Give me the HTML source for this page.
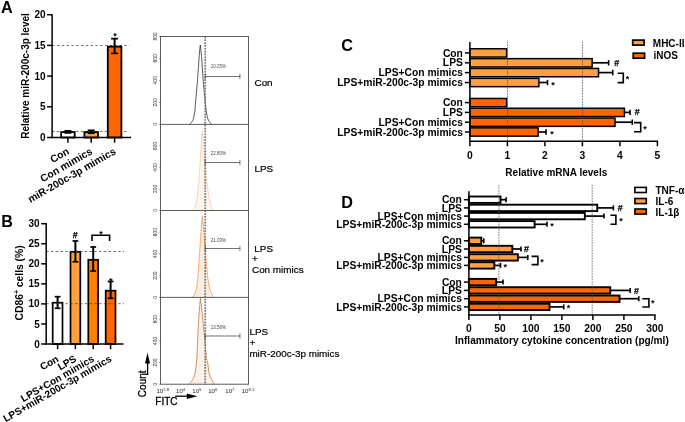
<!DOCTYPE html>
<html><head><meta charset="utf-8"><title>Figure</title>
<style>
html,body{margin:0;padding:0;background:#fff;}
body{width:685px;height:422px;overflow:hidden;font-family:"Liberation Sans",sans-serif;}
svg{display:block;will-change:transform;opacity:0.9999;}
svg text{font-family:"Liberation Sans",sans-serif;}
</style></head>
<body>
<svg width="685" height="422" viewBox="0 0 685 422">
<rect x="0" y="0" width="685" height="422" fill="#ffffff"/>
<text x="1.1" y="12.9" font-size="16.2" font-weight="bold" text-anchor="start" fill="#000" >A</text>
<line x1="52.1" y1="45.5" x2="129.2" y2="45.5" stroke="#333" stroke-width="0.7" stroke-dasharray="2.5 2.3"/>
<line x1="52.1" y1="131.5" x2="129.2" y2="131.5" stroke="#333" stroke-width="0.7" stroke-dasharray="2.5 2.3"/>
<rect x="61.10" y="132.10" width="13.60" height="5.40" fill="#ffffff" stroke="#000" stroke-width="1.8"/>
<line x1="67.9" y1="132.895" x2="67.9" y2="130.8688" stroke="#000" stroke-width="2.0" />
<line x1="64.4" y1="130.8688" x2="71.4" y2="130.8688" stroke="#000" stroke-width="1.7" />
<line x1="64.4" y1="132.895" x2="71.4" y2="132.895" stroke="#000" stroke-width="1.7" />
<rect x="84.40" y="132.10" width="13.60" height="5.40" fill="#FFA040" stroke="#000" stroke-width="1.8"/>
<line x1="91.2" y1="133.202" x2="91.2" y2="130.3162" stroke="#000" stroke-width="2.0" />
<line x1="87.7" y1="130.3162" x2="94.7" y2="130.3162" stroke="#000" stroke-width="1.7" />
<line x1="87.7" y1="133.202" x2="94.7" y2="133.202" stroke="#000" stroke-width="1.7" />
<rect x="107.80" y="46.63" width="13.60" height="90.87" fill="#FF6600" stroke="#000" stroke-width="1.8"/>
<line x1="114.6" y1="53.382000000000005" x2="114.6" y2="38.646" stroke="#000" stroke-width="2.0" />
<line x1="111.1" y1="38.646" x2="118.1" y2="38.646" stroke="#000" stroke-width="1.7" />
<line x1="111.1" y1="53.382000000000005" x2="118.1" y2="53.382000000000005" stroke="#000" stroke-width="1.7" />
<line x1="52.1" y1="14.3" x2="52.1" y2="138.15" stroke="#000" stroke-width="1.5" />
<line x1="52.1" y1="137.5" x2="131" y2="137.5" stroke="#000" stroke-width="1.5" />
<line x1="47.1" y1="137.5" x2="52.1" y2="137.5" stroke="#000" stroke-width="1.5" />
<text x="45.6" y="141.05" font-size="10" font-weight="bold" text-anchor="end" fill="#000" >0</text>
<line x1="47.1" y1="106.8" x2="52.1" y2="106.8" stroke="#000" stroke-width="1.5" />
<text x="45.6" y="110.35" font-size="10" font-weight="bold" text-anchor="end" fill="#000" >5</text>
<line x1="47.1" y1="76.1" x2="52.1" y2="76.1" stroke="#000" stroke-width="1.5" />
<text x="45.6" y="79.64999999999999" font-size="10" font-weight="bold" text-anchor="end" fill="#000" >10</text>
<line x1="47.1" y1="45.400000000000006" x2="52.1" y2="45.400000000000006" stroke="#000" stroke-width="1.5" />
<text x="45.6" y="48.95" font-size="10" font-weight="bold" text-anchor="end" fill="#000" >15</text>
<line x1="47.1" y1="14.700000000000003" x2="52.1" y2="14.700000000000003" stroke="#000" stroke-width="1.5" />
<text x="45.6" y="18.250000000000004" font-size="10" font-weight="bold" text-anchor="end" fill="#000" >20</text>
<line x1="67.9" y1="137.5" x2="67.9" y2="142.7" stroke="#000" stroke-width="1.5" />
<text x="70.0" y="153.3" font-size="10.3" font-weight="bold" text-anchor="end" fill="#000" transform="rotate(-30 70.0 153.3)" >Con</text>
<line x1="91.2" y1="137.5" x2="91.2" y2="142.7" stroke="#000" stroke-width="1.5" />
<text x="93.3" y="153.3" font-size="10.3" font-weight="bold" text-anchor="end" fill="#000" transform="rotate(-30 93.3 153.3)" >Con mimics</text>
<line x1="114.6" y1="137.5" x2="114.6" y2="142.7" stroke="#000" stroke-width="1.5" />
<text x="116.69999999999999" y="153.3" font-size="10.3" font-weight="bold" text-anchor="end" fill="#000" transform="rotate(-30 116.69999999999999 153.3)" >miR-200c-3p mimics</text>
<text x="29.3" y="76" font-size="10" font-weight="bold" text-anchor="middle" fill="#000" transform="rotate(-90 29.3 76)" >Relative miR-200c-3p level</text>
<text x="115" y="39.43" font-size="9" font-weight="bold" text-anchor="middle" fill="#000" >*</text>
<text x="1.3" y="226.7" font-size="16.2" font-weight="bold" text-anchor="start" fill="#000" >B</text>
<rect x="52.70" y="302.70" width="9.80" height="41.30" fill="#ffffff" stroke="#000" stroke-width="1.7"/>
<line x1="57.6" y1="308.311" x2="57.6" y2="296.682" stroke="#000" stroke-width="2.0" />
<line x1="54.7" y1="296.682" x2="60.5" y2="296.682" stroke="#000" stroke-width="1.7" />
<line x1="54.7" y1="308.311" x2="60.5" y2="308.311" stroke="#000" stroke-width="1.7" />
<rect x="70.50" y="251.77" width="9.80" height="92.23" fill="#FFA040" stroke="#000" stroke-width="1.7"/>
<line x1="75.4" y1="261.795" x2="75.4" y2="240.943" stroke="#000" stroke-width="2.0" />
<line x1="72.5" y1="240.943" x2="78.30000000000001" y2="240.943" stroke="#000" stroke-width="1.7" />
<line x1="72.5" y1="261.795" x2="78.30000000000001" y2="261.795" stroke="#000" stroke-width="1.7" />
<rect x="88.30" y="259.79" width="9.80" height="84.21" fill="#FF8000" stroke="#000" stroke-width="1.7"/>
<line x1="93.2" y1="271.01800000000003" x2="93.2" y2="246.95800000000003" stroke="#000" stroke-width="2.0" />
<line x1="90.3" y1="246.95800000000003" x2="96.10000000000001" y2="246.95800000000003" stroke="#000" stroke-width="1.7" />
<line x1="90.3" y1="271.01800000000003" x2="96.10000000000001" y2="271.01800000000003" stroke="#000" stroke-width="1.7" />
<rect x="105.70" y="290.67" width="9.80" height="53.33" fill="#FF6600" stroke="#000" stroke-width="1.7"/>
<line x1="110.6" y1="298.286" x2="110.6" y2="281.444" stroke="#000" stroke-width="2.0" />
<line x1="107.69999999999999" y1="281.444" x2="113.5" y2="281.444" stroke="#000" stroke-width="1.7" />
<line x1="107.69999999999999" y1="298.286" x2="113.5" y2="298.286" stroke="#000" stroke-width="1.7" />
<line x1="46.2" y1="251.5" x2="124" y2="251.5" stroke="#333" stroke-width="0.7" stroke-dasharray="2.5 2.3"/>
<line x1="46.2" y1="303.7" x2="124" y2="303.7" stroke="#333" stroke-width="0.7" stroke-dasharray="2.5 2.3"/>
<line x1="46.2" y1="223.04999999999998" x2="46.2" y2="344.65" stroke="#000" stroke-width="1.5" />
<line x1="46.2" y1="344" x2="123.5" y2="344" stroke="#000" stroke-width="1.5" />
<line x1="41.2" y1="344.0" x2="46.2" y2="344.0" stroke="#000" stroke-width="1.5" />
<text x="39.7" y="347.55" font-size="10" font-weight="bold" text-anchor="end" fill="#000" >0</text>
<line x1="41.2" y1="323.95" x2="46.2" y2="323.95" stroke="#000" stroke-width="1.5" />
<text x="39.7" y="327.5" font-size="10" font-weight="bold" text-anchor="end" fill="#000" >5</text>
<line x1="41.2" y1="303.9" x2="46.2" y2="303.9" stroke="#000" stroke-width="1.5" />
<text x="39.7" y="307.45" font-size="10" font-weight="bold" text-anchor="end" fill="#000" >10</text>
<line x1="41.2" y1="283.85" x2="46.2" y2="283.85" stroke="#000" stroke-width="1.5" />
<text x="39.7" y="287.40000000000003" font-size="10" font-weight="bold" text-anchor="end" fill="#000" >15</text>
<line x1="41.2" y1="263.8" x2="46.2" y2="263.8" stroke="#000" stroke-width="1.5" />
<text x="39.7" y="267.35" font-size="10" font-weight="bold" text-anchor="end" fill="#000" >20</text>
<line x1="41.2" y1="243.75" x2="46.2" y2="243.75" stroke="#000" stroke-width="1.5" />
<text x="39.7" y="247.3" font-size="10" font-weight="bold" text-anchor="end" fill="#000" >25</text>
<line x1="41.2" y1="223.7" x2="46.2" y2="223.7" stroke="#000" stroke-width="1.5" />
<text x="39.7" y="227.25" font-size="10" font-weight="bold" text-anchor="end" fill="#000" >30</text>
<line x1="57.6" y1="344" x2="57.6" y2="349.2" stroke="#000" stroke-width="1.5" />
<text x="59.4" y="360.8" font-size="10.1" font-weight="bold" text-anchor="end" fill="#000" transform="rotate(-30 59.4 360.8)" >Con</text>
<line x1="75.4" y1="344" x2="75.4" y2="349.2" stroke="#000" stroke-width="1.5" />
<text x="77.2" y="360.8" font-size="10.1" font-weight="bold" text-anchor="end" fill="#000" transform="rotate(-30 77.2 360.8)" >LPS</text>
<line x1="93.2" y1="344" x2="93.2" y2="349.2" stroke="#000" stroke-width="1.5" />
<text x="95.0" y="360.8" font-size="10.1" font-weight="bold" text-anchor="end" fill="#000" transform="rotate(-30 95.0 360.8)" >LPS+Con mimics</text>
<line x1="110.6" y1="344" x2="110.6" y2="349.2" stroke="#000" stroke-width="1.5" />
<text x="112.39999999999999" y="360.8" font-size="10.1" font-weight="bold" text-anchor="end" fill="#000" transform="rotate(-30 112.39999999999999 360.8)" >LPS+miR-200c-3p mimics</text>
<text x="23.0" y="282.9" font-size="10.3" font-weight="bold" text-anchor="middle" transform="rotate(-90 23.0 282.9)">CD86<tspan dy="-3.5" font-size="7">+</tspan><tspan dy="3.5"> cells (%)</tspan></text>
<text x="75.3" y="237.68" font-size="8.8" font-weight="bold" text-anchor="middle" fill="#000" stroke="#000" stroke-width="0.25">#</text>
<polyline points="92,240.9 92,235.3 109.6,235.3 109.6,240.9" fill="none" stroke="#000" stroke-width="1.6"/>
<text x="101.1" y="237.33" font-size="9" font-weight="bold" text-anchor="middle" fill="#000" >*</text>
<text x="110.7" y="283.83" font-size="9" font-weight="bold" text-anchor="middle" fill="#000" >*</text>
<path d="M189.00,124.40 L189.40,124.34 L189.80,124.17 L190.20,123.89 L190.60,123.52 L191.00,123.07 L191.40,122.54 L191.80,121.95 L192.20,121.30 L192.60,120.61 L193.00,119.79 L193.40,118.64 L193.80,117.13 L194.20,115.25 L194.60,112.98 L195.00,109.90 L195.40,104.60 L195.80,99.41 L196.20,94.92 L196.60,90.59 L197.00,86.23 L197.40,81.61 L197.80,76.50 L198.20,70.76 L198.60,64.79 L199.00,59.05 L199.40,53.68 L199.80,48.97 L200.20,45.65 L200.30,45.00 L200.70,48.08 L201.10,51.94 L201.50,56.49 L201.90,61.69 L202.30,67.64 L202.70,73.68 L203.10,79.14 L203.50,83.90 L203.90,88.34 L204.30,92.56 L204.70,96.61 L205.10,100.58 L205.50,104.70 L205.90,108.66 L206.30,111.70 L206.70,113.90 L207.10,115.86 L207.50,117.55 L207.90,118.95 L208.30,120.02 L208.70,120.79 L209.10,121.48 L209.50,122.12 L209.90,122.71 L210.30,123.23 L210.70,123.67 L211.10,124.01 L211.50,124.26 L211.90,124.38 L212.10,124.40" fill="none" stroke="#111" stroke-width="0.7" stroke-linejoin="round"/>
<path d="M192.30,210.50 L192.70,210.14 L193.10,209.66 L193.50,209.08 L193.90,208.43 L194.30,207.71 L194.70,206.94 L195.10,206.09 L195.50,205.11 L195.90,203.96 L196.30,202.58 L196.70,200.84 L197.10,198.32 L197.50,195.17 L197.90,191.62 L198.30,187.68 L198.70,182.98 L199.10,177.76 L199.50,172.28 L199.90,166.44 L200.30,159.78 L200.70,152.78 L201.10,145.97 L201.50,139.86 L201.90,134.97 L202.30,131.30 L202.70,134.39 L203.10,138.18 L203.50,142.60 L203.90,147.46 L204.30,152.57 L204.70,157.75 L205.10,162.82 L205.50,167.61 L205.90,171.95 L206.30,176.15 L206.70,180.27 L207.10,184.16 L207.50,187.69 L207.90,190.70 L208.30,193.29 L208.70,195.65 L209.10,197.78 L209.50,199.69 L209.90,201.40 L210.30,202.91 L210.70,204.30 L211.10,205.54 L211.50,206.63 L211.90,207.55 L212.30,208.37 L212.70,209.12 L213.10,209.77 L213.50,210.29 L213.70,210.50" fill="#FEF6EE" stroke="#F7C49A" stroke-width="0.7" stroke-linejoin="round"/>
<path d="M191.80,297.40 L192.20,297.22 L192.60,296.90 L193.00,296.46 L193.40,295.93 L193.80,295.32 L194.20,294.67 L194.60,293.98 L195.00,293.20 L195.40,292.26 L195.80,291.12 L196.20,289.72 L196.60,287.98 L197.00,285.14 L197.40,281.33 L197.80,277.12 L198.20,272.38 L198.60,266.89 L199.00,261.11 L199.40,255.45 L199.80,249.59 L200.20,243.50 L200.60,237.39 L201.00,231.49 L201.40,226.00 L201.80,221.17 L202.20,217.20 L202.30,216.30 L202.70,219.46 L203.10,223.33 L203.50,227.79 L203.90,232.69 L204.30,237.84 L204.70,243.11 L205.10,248.32 L205.50,253.33 L205.90,257.99 L206.30,262.65 L206.70,267.29 L207.10,271.65 L207.50,275.48 L207.90,278.63 L208.30,281.49 L208.70,284.06 L209.10,286.29 L209.50,288.10 L209.90,289.51 L210.30,290.71 L210.70,291.76 L211.10,292.68 L211.50,293.54 L211.90,294.36 L212.30,295.14 L212.70,295.87 L213.10,296.53 L213.50,297.13 L213.70,297.40" fill="#FDEEE2" stroke="#F08A3C" stroke-width="0.7" stroke-linejoin="round"/>
<path d="M188.60,384.20 L189.00,383.97 L189.40,383.68 L189.80,383.33 L190.20,382.93 L190.60,382.48 L191.00,382.00 L191.40,381.49 L191.80,380.95 L192.20,380.36 L192.60,379.71 L193.00,378.97 L193.40,378.13 L193.80,377.18 L194.20,376.08 L194.60,374.82 L195.00,373.19 L195.40,371.06 L195.80,368.38 L196.20,365.10 L196.60,361.18 L197.00,355.13 L197.40,345.64 L197.80,336.69 L198.20,328.38 L198.60,320.68 L199.00,314.44 L199.40,309.10 L199.80,304.47 L200.20,300.53 L200.50,298.10 L200.90,301.52 L201.30,305.12 L201.70,308.83 L202.10,312.62 L202.50,316.43 L202.90,320.21 L203.30,323.94 L203.70,327.68 L204.10,331.53 L204.50,335.55 L204.90,339.89 L205.30,345.28 L205.70,351.06 L206.10,355.98 L206.50,358.88 L206.90,360.38 L207.30,361.73 L207.70,363.05 L208.10,365.74 L208.50,369.99 L208.90,372.10 L209.30,373.71 L209.70,375.00 L210.10,376.16 L210.50,377.22 L210.90,378.19 L211.30,379.08 L211.70,379.89 L212.10,380.63 L212.50,381.30 L212.90,381.92 L213.30,382.50 L213.70,383.03 L214.10,383.51 L214.50,383.93 L214.80,384.20" fill="#FBF2E9" stroke="#C07A38" stroke-width="0.8" stroke-linejoin="round"/>
<rect x="160.5" y="36.5" width="88.0" height="347.7" fill="none" stroke="#4a4a4a" stroke-width="0.9"/>
<line x1="160.5" y1="124.4" x2="248.5" y2="124.4" stroke="#4a4a4a" stroke-width="0.9" />
<line x1="160.5" y1="210.5" x2="248.5" y2="210.5" stroke="#4a4a4a" stroke-width="0.9" />
<line x1="160.5" y1="297.4" x2="248.5" y2="297.4" stroke="#4a4a4a" stroke-width="0.9" />
<line x1="205.2" y1="36.5" x2="205.2" y2="384.59999999999997" stroke="#757575" stroke-width="1.7" stroke-dasharray="1.7 1.15"/>
<line x1="205.3" y1="76.5" x2="240.2" y2="76.5" stroke="#333" stroke-width="0.7" />
<line x1="239.9" y1="73.9" x2="239.9" y2="79.1" stroke="#555" stroke-width="0.8" />
<line x1="205.2" y1="73.9" x2="205.2" y2="79.1" stroke="#444" stroke-width="0.8" />
<text x="210.7" y="68.3" font-size="5.2" text-anchor="start" fill="#444" textLength="15.3" lengthAdjust="spacingAndGlyphs">10.25%</text>
<line x1="205.3" y1="162.5" x2="240.2" y2="162.5" stroke="#333" stroke-width="0.7" />
<line x1="239.9" y1="159.9" x2="239.9" y2="165.1" stroke="#555" stroke-width="0.8" />
<line x1="205.2" y1="159.9" x2="205.2" y2="165.1" stroke="#444" stroke-width="0.8" />
<text x="210.7" y="154.6" font-size="5.2" text-anchor="start" fill="#444" textLength="15.3" lengthAdjust="spacingAndGlyphs">22.80%</text>
<line x1="205.3" y1="248.5" x2="240.2" y2="248.5" stroke="#333" stroke-width="0.7" />
<line x1="239.9" y1="245.9" x2="239.9" y2="251.1" stroke="#555" stroke-width="0.8" />
<line x1="205.2" y1="245.9" x2="205.2" y2="251.1" stroke="#444" stroke-width="0.8" />
<text x="210.7" y="241.6" font-size="5.2" text-anchor="start" fill="#444" textLength="15.3" lengthAdjust="spacingAndGlyphs">21.03%</text>
<line x1="205.3" y1="336" x2="240.2" y2="336" stroke="#333" stroke-width="0.7" />
<line x1="239.9" y1="333.4" x2="239.9" y2="338.6" stroke="#555" stroke-width="0.8" />
<line x1="205.2" y1="333.4" x2="205.2" y2="338.6" stroke="#444" stroke-width="0.8" />
<text x="210.7" y="328.5" font-size="5.2" text-anchor="start" fill="#444" textLength="15.3" lengthAdjust="spacingAndGlyphs">13.56%</text>
<text x="157.4" y="124.4" font-size="4.9" text-anchor="middle" fill="#222" transform="rotate(-90 157.4 124.4)" >0</text>
<line x1="159.0" y1="124.4" x2="160.5" y2="124.4" stroke="#555" stroke-width="0.5" />
<text x="157.4" y="102.42500000000001" font-size="4.9" text-anchor="middle" fill="#222" transform="rotate(-90 157.4 102.42500000000001)" >200</text>
<line x1="159.0" y1="102.42500000000001" x2="160.5" y2="102.42500000000001" stroke="#555" stroke-width="0.5" />
<text x="157.4" y="80.45" font-size="4.9" text-anchor="middle" fill="#222" transform="rotate(-90 157.4 80.45)" >400</text>
<line x1="159.0" y1="80.45" x2="160.5" y2="80.45" stroke="#555" stroke-width="0.5" />
<text x="157.4" y="58.474999999999994" font-size="4.9" text-anchor="middle" fill="#222" transform="rotate(-90 157.4 58.474999999999994)" >600</text>
<line x1="159.0" y1="58.474999999999994" x2="160.5" y2="58.474999999999994" stroke="#555" stroke-width="0.5" />
<text x="157.4" y="36.5" font-size="4.9" text-anchor="middle" fill="#222" transform="rotate(-90 157.4 36.5)" >800</text>
<line x1="159.0" y1="36.5" x2="160.5" y2="36.5" stroke="#555" stroke-width="0.5" />
<text x="157.4" y="210.5" font-size="4.9" text-anchor="middle" fill="#222" transform="rotate(-90 157.4 210.5)" >0</text>
<line x1="159.0" y1="210.5" x2="160.5" y2="210.5" stroke="#555" stroke-width="0.5" />
<text x="157.4" y="188.975" font-size="4.9" text-anchor="middle" fill="#222" transform="rotate(-90 157.4 188.975)" >200</text>
<line x1="159.0" y1="188.975" x2="160.5" y2="188.975" stroke="#555" stroke-width="0.5" />
<text x="157.4" y="167.45" font-size="4.9" text-anchor="middle" fill="#222" transform="rotate(-90 157.4 167.45)" >400</text>
<line x1="159.0" y1="167.45" x2="160.5" y2="167.45" stroke="#555" stroke-width="0.5" />
<text x="157.4" y="145.925" font-size="4.9" text-anchor="middle" fill="#222" transform="rotate(-90 157.4 145.925)" >600</text>
<line x1="159.0" y1="145.925" x2="160.5" y2="145.925" stroke="#555" stroke-width="0.5" />
<text x="157.4" y="297.4" font-size="4.9" text-anchor="middle" fill="#222" transform="rotate(-90 157.4 297.4)" >0</text>
<line x1="159.0" y1="297.4" x2="160.5" y2="297.4" stroke="#555" stroke-width="0.5" />
<text x="157.4" y="275.67499999999995" font-size="4.9" text-anchor="middle" fill="#222" transform="rotate(-90 157.4 275.67499999999995)" >200</text>
<line x1="159.0" y1="275.67499999999995" x2="160.5" y2="275.67499999999995" stroke="#555" stroke-width="0.5" />
<text x="157.4" y="253.95" font-size="4.9" text-anchor="middle" fill="#222" transform="rotate(-90 157.4 253.95)" >400</text>
<line x1="159.0" y1="253.95" x2="160.5" y2="253.95" stroke="#555" stroke-width="0.5" />
<text x="157.4" y="232.225" font-size="4.9" text-anchor="middle" fill="#222" transform="rotate(-90 157.4 232.225)" >600</text>
<line x1="159.0" y1="232.225" x2="160.5" y2="232.225" stroke="#555" stroke-width="0.5" />
<text x="157.4" y="384.2" font-size="4.9" text-anchor="middle" fill="#222" transform="rotate(-90 157.4 384.2)" >0</text>
<line x1="159.0" y1="384.2" x2="160.5" y2="384.2" stroke="#555" stroke-width="0.5" />
<text x="157.4" y="362.5" font-size="4.9" text-anchor="middle" fill="#222" transform="rotate(-90 157.4 362.5)" >200</text>
<line x1="159.0" y1="362.5" x2="160.5" y2="362.5" stroke="#555" stroke-width="0.5" />
<text x="157.4" y="340.79999999999995" font-size="4.9" text-anchor="middle" fill="#222" transform="rotate(-90 157.4 340.79999999999995)" >400</text>
<line x1="159.0" y1="340.79999999999995" x2="160.5" y2="340.79999999999995" stroke="#555" stroke-width="0.5" />
<text x="157.4" y="319.09999999999997" font-size="4.9" text-anchor="middle" fill="#222" transform="rotate(-90 157.4 319.09999999999997)" >600</text>
<line x1="159.0" y1="319.09999999999997" x2="160.5" y2="319.09999999999997" stroke="#555" stroke-width="0.5" />
<text x="162.8" y="392.8" font-size="6.1" fill="#2a2a2a" text-anchor="middle">10<tspan dy="-2.2" font-size="4.2">2.8</tspan></text>
<text x="180.6" y="392.8" font-size="6.1" fill="#2a2a2a" text-anchor="middle">10<tspan dy="-2.2" font-size="4.2">4</tspan></text>
<text x="196.9" y="392.8" font-size="6.1" fill="#2a2a2a" text-anchor="middle">10<tspan dy="-2.2" font-size="4.2">5</tspan></text>
<text x="212.8" y="392.8" font-size="6.1" fill="#2a2a2a" text-anchor="middle">10<tspan dy="-2.2" font-size="4.2">6</tspan></text>
<text x="229.9" y="392.8" font-size="6.1" fill="#2a2a2a" text-anchor="middle">10<tspan dy="-2.2" font-size="4.2">7</tspan></text>
<text x="248.0" y="392.8" font-size="6.1" fill="#2a2a2a" text-anchor="middle">10<tspan dy="-2.2" font-size="4.2">8.1</tspan></text>
<text x="254.5" y="86.2" font-size="9.9" text-anchor="start" fill="#000" stroke="#000" stroke-width="0.2">Con</text>
<text x="254.4" y="172" font-size="9.9" text-anchor="start" fill="#000" stroke="#000" stroke-width="0.2">LPS</text>
<text x="254.3" y="251.8" font-size="9.9" text-anchor="start" fill="#000" stroke="#000" stroke-width="0.2">LPS</text>
<text x="252" y="262" font-size="9.9" text-anchor="start" fill="#000" stroke="#000" stroke-width="0.2">+</text>
<text x="252" y="273.2" font-size="9.9" text-anchor="start" fill="#000" stroke="#000" stroke-width="0.2">Con mimics</text>
<text x="249.4" y="335" font-size="9.9" text-anchor="start" fill="#000" stroke="#000" stroke-width="0.2">LPS</text>
<text x="249.4" y="345.5" font-size="9.9" text-anchor="start" fill="#000" stroke="#000" stroke-width="0.2">+</text>
<text x="249.4" y="356.6" font-size="9.9" text-anchor="start" fill="#000" stroke="#000" stroke-width="0.2">miR-200c-3p mimics</text>
<text x="145.8" y="383.8" font-size="10" text-anchor="middle" fill="#000" transform="rotate(-90 145.8 383.8)" stroke="#000" stroke-width="0.3">Count</text>
<polyline points="146.0,374.4 147.6,374.4 147.6,362" fill="none" stroke="#000" stroke-width="1.3"/>
<polygon points="147.5,352.4 145.0,363.4 150.0,363.4" fill="#000"/>
<text x="155.3" y="405.2" font-size="10" text-anchor="start" fill="#000" stroke="#000" stroke-width="0.3">FITC</text>
<line x1="175.2" y1="396.2" x2="188" y2="396.2" stroke="#000" stroke-width="1.3" />
<polygon points="197.5,396.2 186.8,393.4 186.8,399.0" fill="#000"/>
<text x="341.2" y="51.2" font-size="16.2" font-weight="bold" text-anchor="start" fill="#000" >C</text>
<rect x="469.90" y="48.75" width="36.75" height="8.30" fill="#FFA040" stroke="#000" stroke-width="1.5"/>
<line x1="464.9" y1="52.9" x2="469.9" y2="52.9" stroke="#000" stroke-width="1.5" />
<text x="462.9" y="56.5" font-size="10.3" font-weight="bold" text-anchor="end" fill="#000" >Con</text>
<rect x="469.90" y="58.65" width="122.25" height="8.30" fill="#FFA040" stroke="#000" stroke-width="1.5"/>
<line x1="592.15" y1="62.8" x2="608.65" y2="62.8" stroke="#000" stroke-width="1.7" />
<line x1="608.65" y1="60.099999999999994" x2="608.65" y2="65.5" stroke="#000" stroke-width="1.6" />
<line x1="464.9" y1="62.8" x2="469.9" y2="62.8" stroke="#000" stroke-width="1.5" />
<text x="462.9" y="66.39999999999999" font-size="10.3" font-weight="bold" text-anchor="end" fill="#000" >LPS</text>
<rect x="469.90" y="68.45" width="128.62" height="8.30" fill="#FFA040" stroke="#000" stroke-width="1.5"/>
<line x1="598.525" y1="72.6" x2="612.775" y2="72.6" stroke="#000" stroke-width="1.7" />
<line x1="612.775" y1="69.89999999999999" x2="612.775" y2="75.3" stroke="#000" stroke-width="1.6" />
<line x1="464.9" y1="72.6" x2="469.9" y2="72.6" stroke="#000" stroke-width="1.5" />
<text x="462.9" y="76.19999999999999" font-size="10.3" font-weight="bold" text-anchor="end" fill="#000" >LPS+Con mimics</text>
<rect x="469.90" y="78.35" width="69.00" height="8.30" fill="#FFA040" stroke="#000" stroke-width="1.5"/>
<line x1="538.9" y1="82.5" x2="547.525" y2="82.5" stroke="#000" stroke-width="1.7" />
<line x1="547.525" y1="79.8" x2="547.525" y2="85.2" stroke="#000" stroke-width="1.6" />
<line x1="464.9" y1="82.5" x2="469.9" y2="82.5" stroke="#000" stroke-width="1.5" />
<text x="462.9" y="86.1" font-size="10.3" font-weight="bold" text-anchor="end" fill="#000" >LPS+miR-200c-3p mimics</text>
<rect x="469.90" y="98.45" width="36.75" height="8.30" fill="#FF6600" stroke="#000" stroke-width="1.5"/>
<line x1="464.9" y1="102.6" x2="469.9" y2="102.6" stroke="#000" stroke-width="1.5" />
<text x="462.9" y="106.19999999999999" font-size="10.3" font-weight="bold" text-anchor="end" fill="#000" >Con</text>
<rect x="469.90" y="108.25" width="154.50" height="8.30" fill="#FF6600" stroke="#000" stroke-width="1.5"/>
<line x1="624.4" y1="112.4" x2="630.025" y2="112.4" stroke="#000" stroke-width="1.7" />
<line x1="630.025" y1="109.7" x2="630.025" y2="115.10000000000001" stroke="#000" stroke-width="1.6" />
<line x1="464.9" y1="112.4" x2="469.9" y2="112.4" stroke="#000" stroke-width="1.5" />
<text x="462.9" y="116.0" font-size="10.3" font-weight="bold" text-anchor="end" fill="#000" >LPS</text>
<rect x="469.90" y="118.05" width="145.12" height="8.30" fill="#FF6600" stroke="#000" stroke-width="1.5"/>
<line x1="615.025" y1="122.2" x2="632.275" y2="122.2" stroke="#000" stroke-width="1.7" />
<line x1="632.275" y1="119.5" x2="632.275" y2="124.9" stroke="#000" stroke-width="1.6" />
<line x1="464.9" y1="122.2" x2="469.9" y2="122.2" stroke="#000" stroke-width="1.5" />
<text x="462.9" y="125.8" font-size="10.3" font-weight="bold" text-anchor="end" fill="#000" >LPS+Con mimics</text>
<rect x="469.90" y="127.85" width="68.25" height="8.30" fill="#FF6600" stroke="#000" stroke-width="1.5"/>
<line x1="538.15" y1="132.0" x2="546.025" y2="132.0" stroke="#000" stroke-width="1.7" />
<line x1="546.025" y1="129.3" x2="546.025" y2="134.7" stroke="#000" stroke-width="1.6" />
<line x1="464.9" y1="132.0" x2="469.9" y2="132.0" stroke="#000" stroke-width="1.5" />
<text x="462.9" y="135.6" font-size="10.3" font-weight="bold" text-anchor="end" fill="#000" >LPS+miR-200c-3p mimics</text>
<line x1="507.5" y1="41.6" x2="507.5" y2="141.3" stroke="#444" stroke-width="0.7" stroke-dasharray="1.7 1.0"/>
<line x1="582.5" y1="41.6" x2="582.5" y2="141.3" stroke="#444" stroke-width="0.7" stroke-dasharray="1.7 1.0"/>
<line x1="469.9" y1="42" x2="469.9" y2="141.95000000000002" stroke="#000" stroke-width="1.5" />
<line x1="469.9" y1="141.3" x2="658.05" y2="141.3" stroke="#000" stroke-width="1.5" />
<line x1="469.9" y1="141.3" x2="469.9" y2="146.3" stroke="#000" stroke-width="1.5" />
<text x="469.9" y="158.7" font-size="10.3" font-weight="bold" text-anchor="middle" fill="#000" >0</text>
<line x1="507.4" y1="141.3" x2="507.4" y2="146.3" stroke="#000" stroke-width="1.5" />
<text x="507.4" y="158.7" font-size="10.3" font-weight="bold" text-anchor="middle" fill="#000" >1</text>
<line x1="544.9" y1="141.3" x2="544.9" y2="146.3" stroke="#000" stroke-width="1.5" />
<text x="544.9" y="158.7" font-size="10.3" font-weight="bold" text-anchor="middle" fill="#000" >2</text>
<line x1="582.4" y1="141.3" x2="582.4" y2="146.3" stroke="#000" stroke-width="1.5" />
<text x="582.4" y="158.7" font-size="10.3" font-weight="bold" text-anchor="middle" fill="#000" >3</text>
<line x1="619.9" y1="141.3" x2="619.9" y2="146.3" stroke="#000" stroke-width="1.5" />
<text x="619.9" y="158.7" font-size="10.3" font-weight="bold" text-anchor="middle" fill="#000" >4</text>
<line x1="657.4" y1="141.3" x2="657.4" y2="146.3" stroke="#000" stroke-width="1.5" />
<text x="657.4" y="158.7" font-size="10.3" font-weight="bold" text-anchor="middle" fill="#000" >5</text>
<text x="556.3" y="175.6" font-size="10" font-weight="bold" text-anchor="middle" fill="#000" >Relative mRNA levels</text>
<text x="616.6" y="65.68" font-size="8.8" font-weight="bold" text-anchor="middle" fill="#000" stroke="#000" stroke-width="0.25">#</text>
<polyline points="617.7,73.2 623.3,73.2 623.3,82.6 617.7,82.6" fill="none" stroke="#000" stroke-width="1.6"/>
<text x="627.6" y="82.13" font-size="9" font-weight="bold" text-anchor="middle" fill="#000" >*</text>
<text x="553" y="87.93" font-size="9" font-weight="bold" text-anchor="middle" fill="#000" >*</text>
<text x="637.2" y="114.78" font-size="8.8" font-weight="bold" text-anchor="middle" fill="#000" stroke="#000" stroke-width="0.25">#</text>
<polyline points="634,122.6 640.7,122.6 640.7,131.8 634,131.8" fill="none" stroke="#000" stroke-width="1.6"/>
<text x="645" y="132.33" font-size="9" font-weight="bold" text-anchor="middle" fill="#000" >*</text>
<text x="552" y="137.33" font-size="9" font-weight="bold" text-anchor="middle" fill="#000" >*</text>
<rect x="632.70" y="40.10" width="11.40" height="5.00" fill="#FFA040" stroke="#000" stroke-width="1.7"/>
<text x="652.8" y="46.5" font-size="10" font-weight="bold" text-anchor="start" fill="#000" >MHC-II</text>
<rect x="633.20" y="53.20" width="11.40" height="5.00" fill="#FF6600" stroke="#000" stroke-width="1.7"/>
<text x="653.5" y="59.3" font-size="10" font-weight="bold" text-anchor="start" fill="#000" >iNOS</text>
<text x="341.2" y="208.2" font-size="16.2" font-weight="bold" text-anchor="start" fill="#000" >D</text>
<rect x="468.90" y="196.50" width="31.62" height="6.40" fill="#ffffff" stroke="#000" stroke-width="1.9"/>
<line x1="500.52" y1="199.7" x2="506.09999999999997" y2="199.7" stroke="#000" stroke-width="1.7" />
<line x1="506.09999999999997" y1="197.2" x2="506.09999999999997" y2="202.2" stroke="#000" stroke-width="1.6" />
<line x1="463.9" y1="199.7" x2="468.9" y2="199.7" stroke="#000" stroke-width="1.5" />
<text x="461.9" y="203.29999999999998" font-size="10.3" font-weight="bold" text-anchor="end" fill="#000" >Con</text>
<rect x="468.90" y="204.70" width="128.34" height="6.40" fill="#ffffff" stroke="#000" stroke-width="1.9"/>
<line x1="597.24" y1="207.9" x2="613.36" y2="207.9" stroke="#000" stroke-width="1.7" />
<line x1="613.36" y1="205.4" x2="613.36" y2="210.4" stroke="#000" stroke-width="1.6" />
<line x1="463.9" y1="207.9" x2="468.9" y2="207.9" stroke="#000" stroke-width="1.5" />
<text x="461.9" y="211.5" font-size="10.3" font-weight="bold" text-anchor="end" fill="#000" >LPS</text>
<rect x="468.90" y="212.90" width="115.94" height="6.40" fill="#ffffff" stroke="#000" stroke-width="1.9"/>
<line x1="584.8399999999999" y1="216.1" x2="604.06" y2="216.1" stroke="#000" stroke-width="1.7" />
<line x1="604.06" y1="213.6" x2="604.06" y2="218.6" stroke="#000" stroke-width="1.6" />
<line x1="463.9" y1="216.1" x2="468.9" y2="216.1" stroke="#000" stroke-width="1.5" />
<text x="461.9" y="219.7" font-size="10.3" font-weight="bold" text-anchor="end" fill="#000" >LPS+Con mimics</text>
<rect x="468.90" y="221.10" width="65.72" height="6.40" fill="#ffffff" stroke="#000" stroke-width="1.9"/>
<line x1="534.62" y1="224.3" x2="547.02" y2="224.3" stroke="#000" stroke-width="1.7" />
<line x1="547.02" y1="221.8" x2="547.02" y2="226.8" stroke="#000" stroke-width="1.6" />
<line x1="463.9" y1="224.3" x2="468.9" y2="224.3" stroke="#000" stroke-width="1.5" />
<text x="461.9" y="227.9" font-size="10.3" font-weight="bold" text-anchor="end" fill="#000" >LPS+miR-200c-3p mimics</text>
<rect x="468.90" y="237.60" width="12.40" height="6.40" fill="#FFA040" stroke="#000" stroke-width="1.9"/>
<line x1="481.29999999999995" y1="240.8" x2="483.78" y2="240.8" stroke="#000" stroke-width="1.7" />
<line x1="483.78" y1="238.3" x2="483.78" y2="243.3" stroke="#000" stroke-width="1.6" />
<line x1="463.9" y1="240.8" x2="468.9" y2="240.8" stroke="#000" stroke-width="1.5" />
<text x="461.9" y="244.4" font-size="10.3" font-weight="bold" text-anchor="end" fill="#000" >Con</text>
<rect x="468.90" y="245.80" width="43.40" height="6.40" fill="#FFA040" stroke="#000" stroke-width="1.9"/>
<line x1="512.3" y1="249.0" x2="520.98" y2="249.0" stroke="#000" stroke-width="1.7" />
<line x1="520.98" y1="246.5" x2="520.98" y2="251.5" stroke="#000" stroke-width="1.6" />
<line x1="463.9" y1="249.0" x2="468.9" y2="249.0" stroke="#000" stroke-width="1.5" />
<text x="461.9" y="252.6" font-size="10.3" font-weight="bold" text-anchor="end" fill="#000" >LPS</text>
<rect x="468.90" y="254.20" width="48.98" height="6.40" fill="#FFA040" stroke="#000" stroke-width="1.9"/>
<line x1="517.88" y1="257.4" x2="527.8" y2="257.4" stroke="#000" stroke-width="1.7" />
<line x1="527.8" y1="254.89999999999998" x2="527.8" y2="259.9" stroke="#000" stroke-width="1.6" />
<line x1="463.9" y1="257.4" x2="468.9" y2="257.4" stroke="#000" stroke-width="1.5" />
<text x="461.9" y="261.0" font-size="10.3" font-weight="bold" text-anchor="end" fill="#000" >LPS+Con mimics</text>
<rect x="468.90" y="262.20" width="25.42" height="6.40" fill="#FFA040" stroke="#000" stroke-width="1.9"/>
<line x1="494.32" y1="265.4" x2="500.52" y2="265.4" stroke="#000" stroke-width="1.7" />
<line x1="500.52" y1="262.9" x2="500.52" y2="267.9" stroke="#000" stroke-width="1.6" />
<line x1="463.9" y1="265.4" x2="468.9" y2="265.4" stroke="#000" stroke-width="1.5" />
<text x="461.9" y="269.0" font-size="10.3" font-weight="bold" text-anchor="end" fill="#000" >LPS+miR-200c-3p mimics</text>
<rect x="468.90" y="278.90" width="27.28" height="6.40" fill="#FF6600" stroke="#000" stroke-width="1.9"/>
<line x1="496.17999999999995" y1="282.1" x2="503.0" y2="282.1" stroke="#000" stroke-width="1.7" />
<line x1="503.0" y1="279.6" x2="503.0" y2="284.6" stroke="#000" stroke-width="1.6" />
<line x1="463.9" y1="282.1" x2="468.9" y2="282.1" stroke="#000" stroke-width="1.5" />
<text x="461.9" y="285.70000000000005" font-size="10.3" font-weight="bold" text-anchor="end" fill="#000" >Con</text>
<rect x="468.90" y="287.20" width="141.36" height="6.40" fill="#FF6600" stroke="#000" stroke-width="1.9"/>
<line x1="610.26" y1="290.4" x2="630.0999999999999" y2="290.4" stroke="#000" stroke-width="1.7" />
<line x1="630.0999999999999" y1="287.9" x2="630.0999999999999" y2="292.9" stroke="#000" stroke-width="1.6" />
<line x1="463.9" y1="290.4" x2="468.9" y2="290.4" stroke="#000" stroke-width="1.5" />
<text x="461.9" y="294.0" font-size="10.3" font-weight="bold" text-anchor="end" fill="#000" >LPS</text>
<rect x="468.90" y="295.50" width="150.66" height="6.40" fill="#FF6600" stroke="#000" stroke-width="1.9"/>
<line x1="619.56" y1="298.7" x2="638.78" y2="298.7" stroke="#000" stroke-width="1.7" />
<line x1="638.78" y1="296.2" x2="638.78" y2="301.2" stroke="#000" stroke-width="1.6" />
<line x1="463.9" y1="298.7" x2="468.9" y2="298.7" stroke="#000" stroke-width="1.5" />
<text x="461.9" y="302.3" font-size="10.3" font-weight="bold" text-anchor="end" fill="#000" >LPS+Con mimics</text>
<rect x="468.90" y="303.70" width="80.60" height="6.40" fill="#FF6600" stroke="#000" stroke-width="1.9"/>
<line x1="549.5" y1="306.9" x2="563.76" y2="306.9" stroke="#000" stroke-width="1.7" />
<line x1="563.76" y1="304.4" x2="563.76" y2="309.4" stroke="#000" stroke-width="1.6" />
<line x1="463.9" y1="306.9" x2="468.9" y2="306.9" stroke="#000" stroke-width="1.5" />
<text x="461.9" y="310.5" font-size="10.3" font-weight="bold" text-anchor="end" fill="#000" >LPS+miR-200c-3p mimics</text>
<line x1="498.9" y1="185" x2="498.9" y2="315.0" stroke="#555" stroke-width="0.8" stroke-dasharray="1.5 1.1"/>
<line x1="592.2" y1="185" x2="592.2" y2="315.0" stroke="#555" stroke-width="0.8" stroke-dasharray="1.5 1.1"/>
<line x1="468.9" y1="191.3" x2="468.9" y2="315.65" stroke="#000" stroke-width="1.5" />
<line x1="468.9" y1="315.0" x2="655.55" y2="315.0" stroke="#000" stroke-width="1.5" />
<line x1="468.9" y1="315.0" x2="468.9" y2="320.0" stroke="#000" stroke-width="1.5" />
<text x="468.9" y="331.6" font-size="10.3" font-weight="bold" text-anchor="middle" fill="#000" >0</text>
<line x1="499.9" y1="315.0" x2="499.9" y2="320.0" stroke="#000" stroke-width="1.5" />
<text x="499.9" y="331.6" font-size="10.3" font-weight="bold" text-anchor="middle" fill="#000" >50</text>
<line x1="530.9" y1="315.0" x2="530.9" y2="320.0" stroke="#000" stroke-width="1.5" />
<text x="530.9" y="331.6" font-size="10.3" font-weight="bold" text-anchor="middle" fill="#000" >100</text>
<line x1="561.9" y1="315.0" x2="561.9" y2="320.0" stroke="#000" stroke-width="1.5" />
<text x="561.9" y="331.6" font-size="10.3" font-weight="bold" text-anchor="middle" fill="#000" >150</text>
<line x1="592.9" y1="315.0" x2="592.9" y2="320.0" stroke="#000" stroke-width="1.5" />
<text x="592.9" y="331.6" font-size="10.3" font-weight="bold" text-anchor="middle" fill="#000" >200</text>
<line x1="623.9" y1="315.0" x2="623.9" y2="320.0" stroke="#000" stroke-width="1.5" />
<text x="623.9" y="331.6" font-size="10.3" font-weight="bold" text-anchor="middle" fill="#000" >250</text>
<line x1="654.9" y1="315.0" x2="654.9" y2="320.0" stroke="#000" stroke-width="1.5" />
<text x="654.9" y="331.6" font-size="10.3" font-weight="bold" text-anchor="middle" fill="#000" >300</text>
<text x="561.9" y="344.4" font-size="10.15" font-weight="bold" text-anchor="middle" fill="#000" >Inflammatory cytokine concentration (pg/ml)</text>
<text x="620.3" y="210.98" font-size="8.8" font-weight="bold" text-anchor="middle" fill="#000" stroke="#000" stroke-width="0.25">#</text>
<polyline points="610.4,215.3 615.9,215.3 615.9,224.3 610.4,224.3" fill="none" stroke="#000" stroke-width="1.6"/>
<text x="621" y="223.93" font-size="9" font-weight="bold" text-anchor="middle" fill="#000" >*</text>
<text x="552" y="228.93" font-size="9" font-weight="bold" text-anchor="middle" fill="#000" >*</text>
<text x="526.4" y="252.08" font-size="8.8" font-weight="bold" text-anchor="middle" fill="#000" stroke="#000" stroke-width="0.25">#</text>
<polyline points="531.6,256.4 537.9,256.4 537.9,264.6 531.6,264.6" fill="none" stroke="#000" stroke-width="1.6"/>
<text x="542" y="264.73" font-size="9" font-weight="bold" text-anchor="middle" fill="#000" >*</text>
<text x="505.3" y="269.73" font-size="9" font-weight="bold" text-anchor="middle" fill="#000" >*</text>
<text x="636.4" y="293.68" font-size="8.8" font-weight="bold" text-anchor="middle" fill="#000" stroke="#000" stroke-width="0.25">#</text>
<polyline points="642.3,298.8 648.9,298.8 648.9,307 642.3,307" fill="none" stroke="#000" stroke-width="1.6"/>
<text x="652.8" y="306.13" font-size="9" font-weight="bold" text-anchor="middle" fill="#000" >*</text>
<text x="568.4" y="311.13" font-size="9" font-weight="bold" text-anchor="middle" fill="#000" >*</text>
<rect x="634.90" y="187.40" width="11.40" height="5.10" fill="#ffffff" stroke="#000" stroke-width="1.6"/>
<text x="655.5" y="193.6" font-size="10" font-weight="bold" text-anchor="start" fill="#000" >TNF-α</text>
<rect x="634.90" y="198.50" width="11.40" height="5.10" fill="#FFA040" stroke="#000" stroke-width="1.6"/>
<text x="655.5" y="204.9" font-size="10" font-weight="bold" text-anchor="start" fill="#000" >IL-6</text>
<rect x="634.90" y="209.00" width="11.40" height="5.10" fill="#FF6600" stroke="#000" stroke-width="1.6"/>
<text x="655.5" y="215.6" font-size="10" font-weight="bold" text-anchor="start" fill="#000" >IL-1β</text>
</svg>
</body></html>
